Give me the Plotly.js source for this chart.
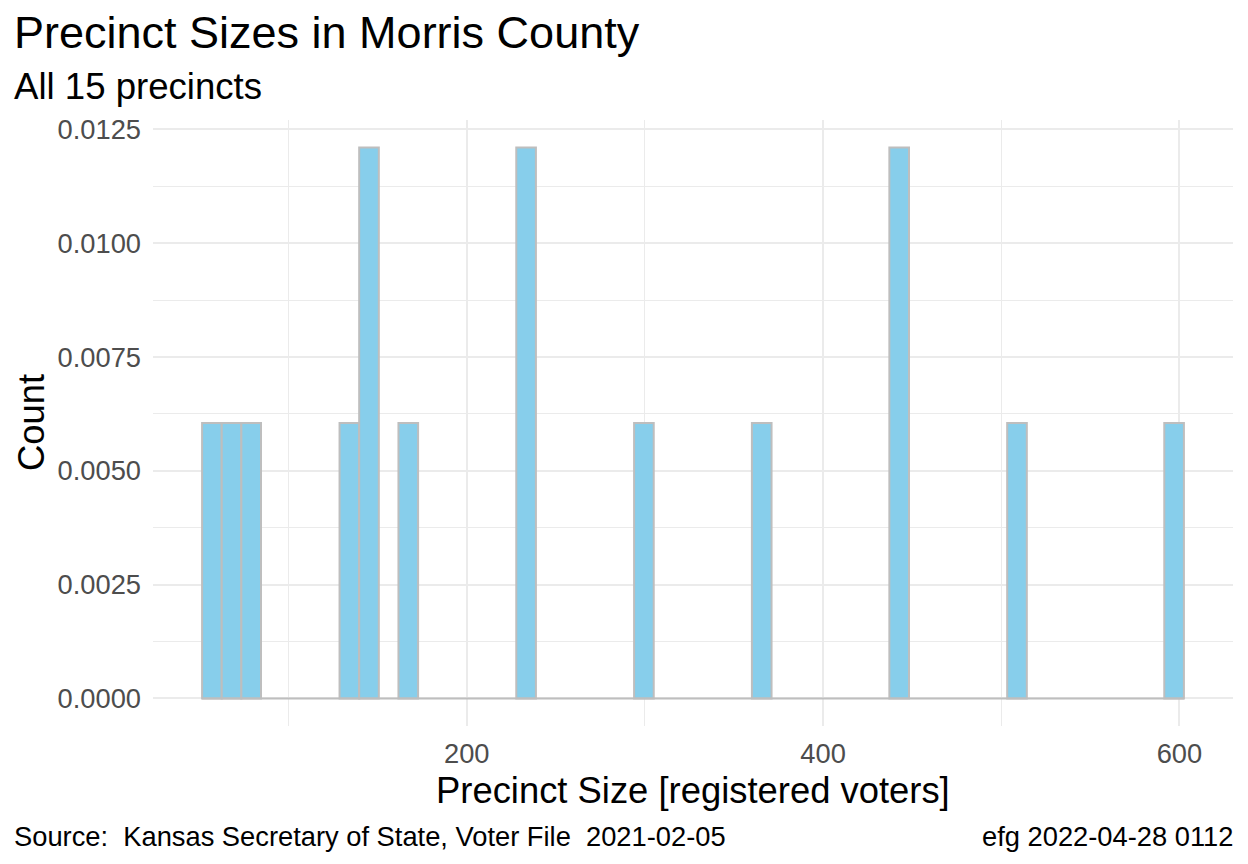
<!DOCTYPE html>
<html>
<head>
<meta charset="utf-8">
<script src="https://cdn.plot.ly/plotly-3.0.1.min.js"></script>
<style>html,body{margin:0;padding:0;background:#fff;}#chart{width:1248px;height:864px;}</style>
</head>
<body>
<div id="chart"></div>
<script>
// Precinct sizes (registered voters), estimated from the reference histogram
const precinctSizes = [57, 68, 79, 134, 143, 147, 167, 231, 235, 299, 365, 440, 444, 508, 597];
const nBins = 50;
const titleText = "Precinct Sizes in Morris County";
const subtitleText = "All 15 precincts";
const xTitle = "Precinct Size [registered voters]";
const yTitle = "Count";
const captionLeft = "Source:  Kansas Secretary of State, Voter File  2021-02-05";
const captionRight = "efg 2022-04-28 0112";

const W = 1248, H = 864;
const M = {l: 153, r: 15, t: 120, b: 138};
const pw = W - M.l - M.r, ph = H - M.t - M.b;
const px2x = p => (p - M.l) / pw;
const py2y = p => (H - M.b - p) / ph;

const mn = Math.min(...precinctSizes), mx = Math.max(...precinctSizes);
const bw = (mx - mn) / (nBins - 1);
const binStart = mn - bw / 2, binEnd = mx + bw / 2;
const maxDens = 2 / (precinctSizes.length * bw);
const xPad = (binEnd - binStart) * 0.05;
const yPad = maxDens * 0.05;

const font = "Liberation Sans, Arial, sans-serif";
const grid = "#EBEBEB";
const tickSize = 27.3;

const data = [
  {type: "scatter", mode: "lines", x: [binStart, binEnd], y: [0, 0],
   line: {color: "#BEBEBE", width: 2}, hoverinfo: "skip", showlegend: false},
  {type: "histogram", x: precinctSizes, histnorm: "probability density",
   autobinx: false, xbins: {start: binStart, end: binEnd + 1e-9, size: bw},
   marker: {color: "#87CEEB", line: {color: "#BEBEBE", width: 2}},
   showlegend: false}
];

const layout = {
  width: W, height: H,
  margin: M,
  paper_bgcolor: "#fff", plot_bgcolor: "#fff",
  bargap: 0,
  font: {family: font, color: "#000"},
  xaxis: {
    range: [binStart - xPad, binEnd + xPad],
    tick0: 0, dtick: 200, showgrid: true, gridcolor: grid, gridwidth: 2,
    minor: {dtick: 100, tick0: 0, showgrid: true, gridcolor: grid, gridwidth: 1},
    zeroline: false, showline: false, ticks: "",
    tickfont: {family: font, size: tickSize, color: "#4D4D4D"},
    ticklabelstandoff: 9
  },
  yaxis: {
    range: [-yPad, maxDens + yPad],
    tick0: 0, dtick: 0.0025, tickformat: ".4f",
    showgrid: true, gridcolor: grid, gridwidth: 2,
    minor: {dtick: 0.00125, tick0: 0, showgrid: true, gridcolor: grid, gridwidth: 1},
    zeroline: false, showline: false, ticks: "",
    tickfont: {family: font, size: tickSize, color: "#4D4D4D"},
    ticklabelstandoff: 11
  },
  annotations: [
    {text: titleText, xref: "paper", yref: "paper", x: px2x(12), y: py2y(32),
     xanchor: "left", yanchor: "middle", showarrow: false, font: {family: font, size: 45, color: "#000"}},
    {text: subtitleText, xref: "paper", yref: "paper", x: px2x(12), y: py2y(86),
     xanchor: "left", yanchor: "middle", showarrow: false, font: {family: font, size: 36.6, color: "#000"}},
    {text: xTitle, xref: "paper", yref: "paper", x: px2x(693), y: py2y(790),
     xanchor: "center", yanchor: "middle", showarrow: false, font: {family: font, size: 36.4, color: "#000"}},
    {text: yTitle, xref: "paper", yref: "paper", x: px2x(31), y: 0.5, textangle: -90,
     xanchor: "center", yanchor: "middle", showarrow: false, font: {family: font, size: 36.4, color: "#000"}},
    {text: captionLeft, xref: "paper", yref: "paper", x: px2x(12), y: py2y(836),
     xanchor: "left", yanchor: "middle", showarrow: false, font: {family: font, size: tickSize, color: "#000"}},
    {text: captionRight, xref: "paper", yref: "paper", x: px2x(1235), y: py2y(836),
     xanchor: "right", yanchor: "middle", showarrow: false, font: {family: font, size: tickSize, color: "#000"}}
  ]
};

Plotly.newPlot("chart", data, layout, {staticPlot: true, displayModeBar: false});
</script>
</body>
</html>
